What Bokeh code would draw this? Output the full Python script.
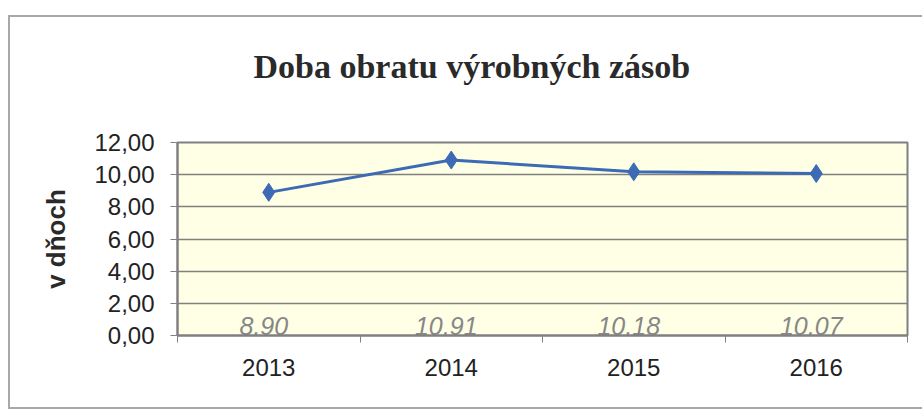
from bokeh.plotting import figure
from bokeh.models import Range1d, FixedTicker, ColumnDataSource, Title
from bokeh.core.properties import value
from bokeh.embed import file_html
from bokeh.resources import INLINE

title_text = "Doba obratu výrobných zásob"
y_label = "v dňoch"
years = ["2013", "2014", "2015", "2016"]
days = [8.90, 10.91, 10.18, 10.07]
day_labels = ["8,90", "10,91", "10,18", "10,07"]
y_ticks = [0, 2, 4, 6, 8, 10, 12]
y_tick_labels = ["0,00", "2,00", "4,00", "6,00", "8,00", "10,00", "12,00"]

xs = [i + 0.5 for i in range(len(years))]
src = ColumnDataSource(dict(x=xs, y=days, lbl=day_labels, base=[0] * len(years)))

W, H = 914, 394
p = figure(width=W, height=H, output_backend="svg", toolbar_location=None,
           x_range=Range1d(0, len(years)), y_range=Range1d(0, 12),
           min_border_left=167, min_border_right=17, min_border_top=125, min_border_bottom=76,
           styles={"border-left": "2px solid #A8A8A8", "border-top": "2px solid #A8A8A8",
                   "border-bottom": "2px solid #A8A8A8", "margin-left": "8px", "margin-top": "15px"})
p.title = None
# spacer between the frame and the title (nearest to the frame)
p.add_layout(Title(text=" ", text_font_size="1px", standoff=55), "above")
p.add_layout(Title(text=title_text, align="left", offset=76, standoff=0, vertical_align="bottom",
                   text_font="Liberation Serif", text_font_size="34px", text_font_style="bold",
                   text_color="#2A2A2A"), "above")

p.background_fill_color = "#FFFFE6"
p.border_fill_color = "white"
p.outline_line_color = "#808080"
p.outline_line_width = 2

# y axis
p.yaxis.ticker = FixedTicker(ticks=y_ticks)
p.yaxis.major_label_overrides = {t: l for t, l in zip(y_ticks, y_tick_labels)}
p.yaxis.major_label_text_font = "Liberation Sans"
p.yaxis.major_label_text_font_size = "24px"
p.yaxis.major_label_text_color = "#222222"
p.yaxis.major_tick_out = 7
p.yaxis.major_tick_in = 0
p.yaxis.major_tick_line_color = "#808080"
p.yaxis.minor_tick_line_color = None
p.yaxis.axis_line_color = "#808080"
p.yaxis.axis_line_width = 2
p.yaxis.major_label_standoff = 16
p.yaxis.axis_label = y_label
p.yaxis.axis_label_text_font = "Liberation Sans"
p.yaxis.axis_label_text_font_size = "26px"
p.yaxis.axis_label_text_font_style = "bold"
p.yaxis.axis_label_text_color = "#2A2A2A"
p.yaxis.axis_label_standoff = 20

# x axis
p.xaxis.ticker = FixedTicker(ticks=xs, minor_ticks=list(range(len(years) + 1)))
p.xaxis.major_label_overrides = {x: y for x, y in zip(xs, years)}
p.xaxis.major_label_text_font = "Liberation Sans"
p.xaxis.major_label_text_font_size = "24px"
p.xaxis.major_label_text_color = "#222222"
p.xaxis.major_tick_line_color = None
p.xaxis.major_tick_out = 0
p.xaxis.major_tick_in = 0
p.xaxis.minor_tick_out = 7
p.xaxis.minor_tick_in = 0
p.xaxis.minor_tick_line_color = "#808080"
p.xaxis.axis_line_color = "#808080"
p.xaxis.axis_line_width = 2
p.xaxis.major_label_standoff = 16

p.xgrid.grid_line_color = None
p.ygrid.ticker = FixedTicker(ticks=y_ticks)
p.ygrid.grid_line_color = "#808080"
p.ygrid.grid_line_width = 1.5

p.line("x", "y", source=src, line_color="#3C6AB4", line_width=3)
p.scatter("x", "y", source=src, marker="diamond", size=18, fill_color="#3C6AB4", line_color="#3C6AB4")
p.text("x", "base", text="lbl", source=src, text_align="center", text_baseline="bottom",
       x_offset=-5, y_offset=-1, text_font=value("Liberation Sans"), text_font_size="25px",
       text_font_style="italic", text_color="#878787")

open("out.html", "w").write(file_html(p, INLINE))
